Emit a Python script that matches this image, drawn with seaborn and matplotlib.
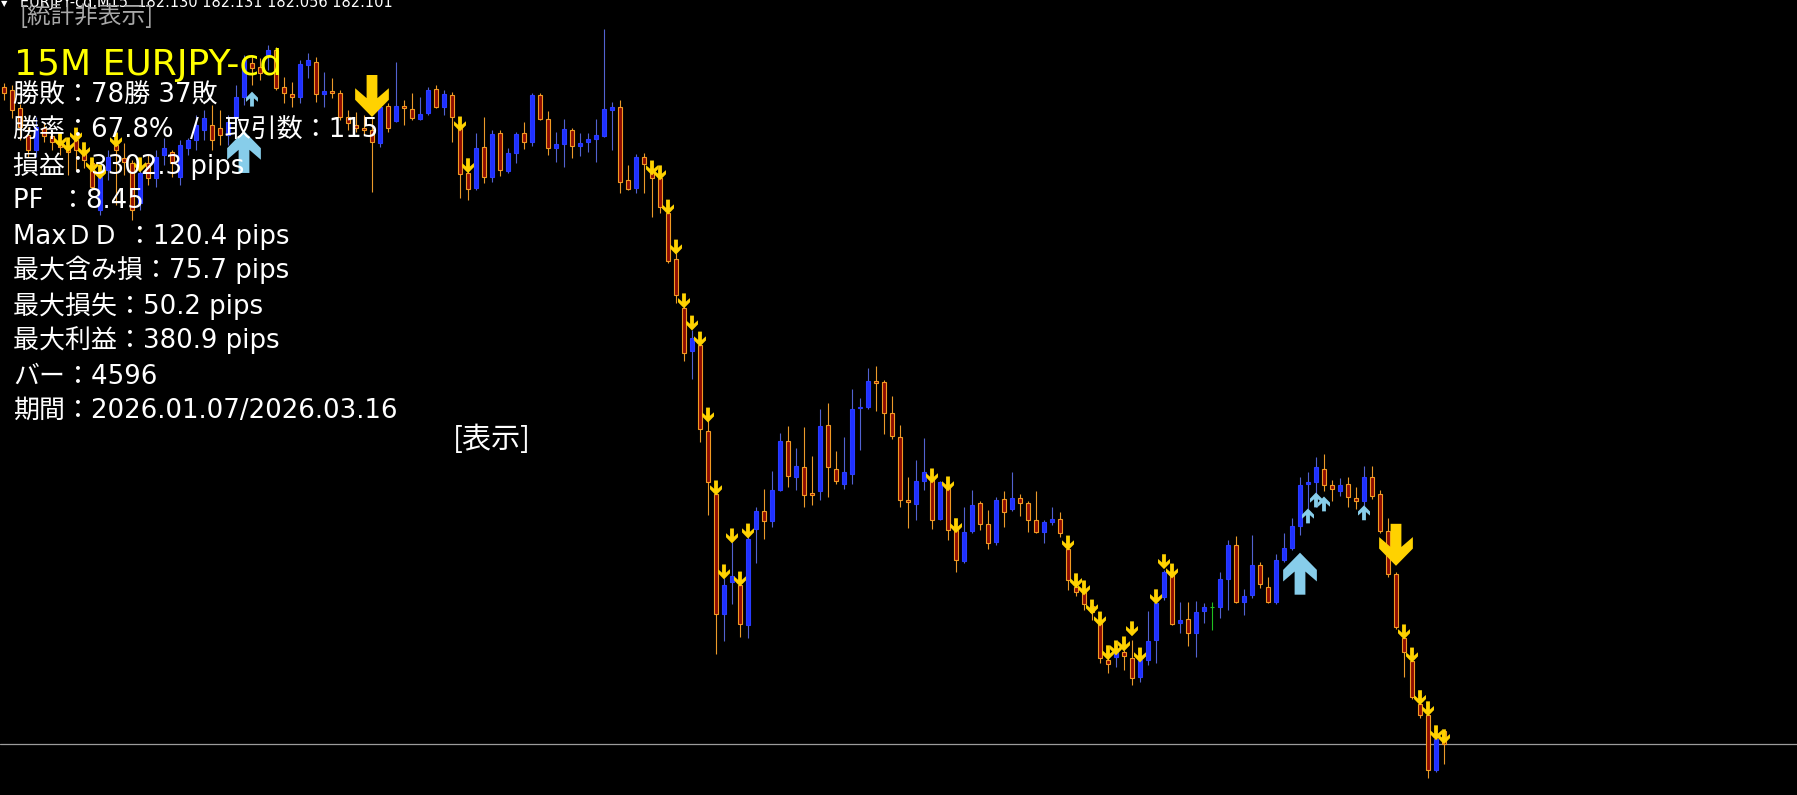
import matplotlib
matplotlib.use("Agg")
import matplotlib.pyplot as plt
from matplotlib.path import Path
import pandas as pd
import seaborn as sns

# --- data: EURJPY-cd M15, one value per bar (oldest -> newest) ---
opens = [
    183.580, 183.574, 183.533, 183.472, 183.439, 183.488, 183.470, 183.457, 183.445, 183.461,
    183.439, 183.409, 183.304, 183.394, 183.450, 183.421, 183.409, 183.319, 183.409, 183.376,
    183.427, 183.434, 183.378, 183.443, 183.461, 183.484, 183.495, 183.488, 183.472, 183.513,
    183.558, 183.634, 183.625, 183.652, 183.664, 183.580, 183.565, 183.558, 183.630, 183.637,
    183.565, 183.571, 183.567, 183.513, 183.495, 183.488, 183.484, 183.454, 183.538, 183.504,
    183.538, 183.531, 183.508, 183.522, 183.576, 183.535, 183.562, 183.488, 183.387, 183.353,
    183.445, 183.378, 183.477, 183.391, 183.432, 183.477, 183.457, 183.562, 183.508, 183.443,
    183.452, 183.484, 183.448, 183.457, 183.463, 183.470, 183.529, 183.535, 183.371, 183.353,
    183.423, 183.389, 183.376, 183.297, 183.193, 183.083, 182.986, 183.000, 182.806, 182.665,
    182.395, 182.467, 182.460, 182.370, 182.586, 182.626, 182.604, 182.674, 182.784, 182.703,
    182.725, 182.667, 182.671, 182.820, 182.721, 182.687, 182.710, 182.858, 182.860, 182.919,
    182.917, 182.847, 182.793, 182.651, 182.642, 182.694, 182.701, 182.608, 182.685, 182.584,
    182.514, 182.581, 182.644, 182.597, 182.557, 182.653, 182.631, 182.656, 182.644, 182.606,
    182.579, 182.602, 182.608, 182.541, 182.455, 182.444, 182.413, 182.374, 182.291, 182.298,
    182.309, 182.296, 182.253, 182.291, 182.336, 182.433, 182.487, 182.374, 182.383, 182.352,
    182.401, 182.409, 182.410, 182.473, 182.550, 182.422, 182.437, 182.505, 182.455, 182.422,
    182.516, 182.543, 182.593, 182.687, 182.692, 182.721, 182.685, 182.671, 182.687, 182.656,
    182.649, 182.703, 182.665, 182.581, 182.485, 182.341, 182.289, 182.192, 182.167, 182.044,
    182.130,
]
highs = [
    183.589, 183.585, 183.542, 183.490, 183.513, 183.502, 183.484, 183.461, 183.450, 183.472,
    183.443, 183.416, 183.382, 183.439, 183.461, 183.454, 183.416, 183.398, 183.427, 183.439,
    183.466, 183.439, 183.461, 183.466, 183.517, 183.529, 183.540, 183.529, 183.517, 183.585,
    183.652, 183.652, 183.645, 183.675, 183.670, 183.603, 183.592, 183.641, 183.657, 183.648,
    183.614, 183.601, 183.574, 183.529, 183.524, 183.517, 183.513, 183.540, 183.544, 183.637,
    183.551, 183.567, 183.558, 183.580, 183.585, 183.574, 183.569, 183.493, 183.394, 183.477,
    183.513, 183.484, 183.484, 183.443, 183.479, 183.502, 183.567, 183.567, 183.526, 183.479,
    183.508, 183.488, 183.477, 183.477, 183.508, 183.711, 183.547, 183.551, 183.405, 183.430,
    183.432, 183.394, 183.382, 183.304, 183.207, 183.090, 183.034, 183.004, 182.831, 182.674,
    182.476, 182.557, 182.471, 182.593, 182.635, 182.676, 182.716, 182.802, 182.818, 182.768,
    182.815, 182.750, 182.856, 182.869, 182.761, 182.793, 182.901, 182.881, 182.948, 182.953,
    182.921, 182.885, 182.820, 182.703, 182.741, 182.791, 182.705, 182.694, 182.687, 182.588,
    182.635, 182.674, 182.649, 182.629, 182.658, 182.671, 182.714, 182.665, 182.649, 182.671,
    182.606, 182.635, 182.624, 182.545, 182.460, 182.449, 182.417, 182.381, 182.300, 182.325,
    182.314, 182.336, 182.287, 182.401, 182.426, 182.494, 182.489, 182.422, 182.422, 182.424,
    182.419, 182.422, 182.489, 182.561, 182.570, 182.451, 182.572, 182.512, 182.478, 182.530,
    182.577, 182.611, 182.703, 182.714, 182.748, 182.755, 182.696, 182.701, 182.703, 182.680,
    182.728, 182.728, 182.674, 182.611, 182.489, 182.345, 182.296, 182.199, 182.174, 182.118,
    182.131,
]
lows = [
    183.551, 183.511, 183.461, 183.423, 183.423, 183.457, 183.439, 183.427, 183.382, 183.394,
    183.398, 183.349, 183.292, 183.371, 183.315, 183.382, 183.281, 183.304, 183.360, 183.355,
    183.405, 183.378, 183.360, 183.427, 183.439, 183.461, 183.439, 183.450, 183.450, 183.495,
    183.540, 183.585, 183.596, 183.619, 183.574, 183.544, 183.535, 183.544, 183.601, 183.547,
    183.535, 183.556, 183.506, 183.484, 183.479, 183.472, 183.344, 183.445, 183.479, 183.502,
    183.495, 183.506, 183.506, 183.517, 183.533, 183.517, 183.457, 183.331, 183.326, 183.349,
    183.364, 183.367, 183.380, 183.387, 183.409, 183.441, 183.448, 183.506, 183.427, 183.412,
    183.400, 183.421, 183.425, 183.434, 183.412, 183.468, 183.439, 183.342, 183.349, 183.342,
    183.342, 183.288, 183.297, 183.184, 183.094, 182.964, 182.923, 182.782, 182.617, 182.305,
    182.334, 182.417, 182.343, 182.341, 182.509, 182.563, 182.590, 182.671, 182.680, 182.674,
    182.635, 182.640, 182.651, 182.658, 182.687, 182.676, 182.687, 182.764, 182.856, 182.851,
    182.800, 182.788, 182.635, 182.588, 182.606, 182.674, 182.586, 182.606, 182.561, 182.489,
    182.509, 182.577, 182.584, 182.541, 182.550, 182.590, 182.626, 182.615, 182.579, 182.577,
    182.554, 182.595, 182.568, 182.449, 182.435, 182.404, 182.381, 182.284, 182.262, 182.275,
    182.269, 182.235, 182.242, 182.280, 182.284, 182.426, 182.370, 182.352, 182.323, 182.298,
    182.374, 182.359, 182.386, 182.404, 182.419, 182.392, 182.431, 182.453, 182.419, 182.417,
    182.512, 182.539, 182.572, 182.631, 182.635, 182.671, 182.649, 182.660, 182.635, 182.631,
    182.638, 182.653, 182.577, 182.478, 182.361, 182.253, 182.203, 182.161, 182.026, 182.039,
    182.056,
]
closes = [
    183.567, 183.529, 183.490, 183.439, 183.490, 183.470, 183.457, 183.445, 183.434, 183.439,
    183.416, 183.355, 183.378, 183.423, 183.439, 183.412, 183.304, 183.387, 183.376, 183.423,
    183.443, 183.409, 183.450, 183.461, 183.495, 183.511, 183.461, 183.472, 183.502, 183.558,
    183.641, 183.623, 183.612, 183.664, 183.578, 183.567, 183.558, 183.632, 183.641, 183.565,
    183.571, 183.567, 183.513, 183.499, 183.488, 183.484, 183.457, 183.535, 183.488, 183.538,
    183.533, 183.511, 183.520, 183.574, 183.535, 183.565, 183.513, 183.385, 183.351, 183.443,
    183.378, 183.475, 183.394, 183.432, 183.475, 183.457, 183.562, 183.508, 183.443, 183.452,
    183.486, 183.448, 183.454, 183.463, 183.472, 183.531, 183.535, 183.367, 183.351, 183.423,
    183.407, 183.376, 183.310, 183.189, 183.112, 182.982, 183.016, 182.811, 182.692, 182.395,
    182.460, 182.480, 182.372, 182.563, 182.626, 182.604, 182.674, 182.784, 182.705, 182.728,
    182.662, 182.662, 182.818, 182.725, 182.694, 182.714, 182.856, 182.860, 182.919, 182.914,
    182.847, 182.795, 182.651, 182.647, 182.694, 182.714, 182.606, 182.692, 182.584, 182.516,
    182.579, 182.640, 182.597, 182.554, 182.651, 182.624, 182.656, 182.644, 182.606, 182.579,
    182.602, 182.608, 182.577, 182.471, 182.444, 182.417, 182.399, 182.296, 182.282, 182.309,
    182.300, 182.251, 182.291, 182.334, 182.419, 182.489, 182.372, 182.381, 182.352, 182.399,
    182.410, 182.409, 182.473, 182.550, 182.422, 182.435, 182.505, 182.462, 182.422, 182.516,
    182.543, 182.593, 182.685, 182.692, 182.725, 182.685, 182.676, 182.685, 182.658, 182.649,
    182.703, 182.660, 182.581, 182.485, 182.365, 182.309, 182.208, 182.167, 182.044, 182.113,
    182.101,
]

# signal arrows (bar index, price of arrow centre)
sell_small_bar = [7, 8, 9, 10, 11, 12, 14, 17, 57, 58, 81, 82, 83, 84, 85, 86, 87, 88, 89, 90,
                  91, 92, 93, 116, 118, 119, 133, 134, 135, 136, 137, 138, 139, 140, 141, 142,
                  144, 145, 146, 175, 176, 177, 178, 179, 180]
sell_small_px = [183.461, 183.450, 183.472, 183.439, 183.405, 183.389, 183.461, 183.405, 183.497,
                 183.403, 183.398, 183.387, 183.310, 183.220, 183.099, 183.049, 183.013, 182.842,
                 182.678, 182.489, 182.570, 182.473, 182.581, 182.705, 182.687, 182.593, 182.554,
                 182.469, 182.453, 182.410, 182.383, 182.307, 182.318, 182.327, 182.361, 182.302,
                 182.433, 182.512, 182.491, 182.354, 182.302, 182.206, 182.181, 182.127, 182.118]
buy_small_bar = [31, 163, 164, 165, 170]
buy_small_px = [183.553, 182.615, 182.651, 182.642, 182.622]
sell_big_bar = [46, 174]
sell_big_px = [183.560, 182.550]
buy_big_bar = [30, 162]
buy_big_px = [183.434, 182.485]

stats_lines = [
    "勝敗：78勝 37敗",
    "勝率：67.8%  /　取引数：115",
    "損益：3302.3 pips",
    "PF  ：8.45",
    "MaxＤＤ ：120.4 pips",
    "最大含み損：75.7 pips",
    "最大損失：50.2 pips",
    "最大利益：380.9 pips",
    "バー：4596",
    "期間：2026.01.07/2026.03.16",
]

# --- figure ---
W, H = 1797, 795
sns.set_style("dark", {"axes.facecolor": "black", "figure.facecolor": "black"})
# Latin glyphs from DejaVu Sans, Japanese glyphs fall back to Noto Sans CJK JP
plt.rcParams["font.family"] = ["DejaVu Sans", "Noto Sans CJK JP"]

fig = plt.figure(figsize=(W / 100, H / 100), dpi=100)
ax = fig.add_axes([0, 0, 1, 1])
ax.set_facecolor("black")
ax.set_xlim(-0.5, (W - 4) / 8)
ax.set_ylim(181.987, 183.776)
ax.axis("off")


def fx(px):
    return px / W


def fy(py):
    return 1 - py / H


df = pd.DataFrame({"o": opens, "h": highs, "l": lows, "c": closes})
df["bar"] = range(len(df))
df["kind"] = "bear"
df.loc[df.c > df.o, "kind"] = "bull"
df.loc[df.c == df.o, "kind"] = "doji"

fill = {"bear": "#8e0c02", "bull": "#1f30ff", "doji": "#20c020"}
edge = {"bear": "#f39a22", "bull": "#2a3cff", "doji": "#20c020"}
wick = {"bear": "#eb9a2a", "bull": "#5262d0", "doji": "#20c020"}

ax.vlines(df.bar, df.l, df.h, colors=df.kind.map(wick), linewidth=0.8, zorder=2)
body_lo = df[["o", "c"]].min(axis=1)
body_h = (df.c - df.o).abs().clip(lower=0.0015)
ax.bar(df.bar, body_h, bottom=body_lo, width=0.5, color=df.kind.map(fill),
       edgecolor=df.kind.map(edge), linewidth=0.8, zorder=3)

# current bid line
ax.axhline(closes[-1], color="#9c9c9c", linewidth=0.9, zorder=1)

# arrow glyph (pointing up), centred on 0
up_verts = [(0, 0.6225), (0.5, 0.1125), (0.5, -0.2305), (0.16, 0.0635), (0.16, -0.6225),
            (-0.16, -0.6225), (-0.16, 0.0635), (-0.5, -0.2305), (-0.5, 0.1125), (0, 0.6225)]
up_arrow = Path(up_verts, closed=True)
down_arrow = Path([(x, -y) for x, y in up_verts], closed=True)

gold = "#ffd200"
sky = "#87cdea"
for bars, prices, mk, size, col in [
    (sell_small_bar, sell_small_px, down_arrow, 115, gold),
    (buy_small_bar, buy_small_px, up_arrow, 115, sky),
    (sell_big_bar, sell_big_px, down_arrow, 914, gold),
    (buy_big_bar, buy_big_px, up_arrow, 914, sky),
]:
    sns.scatterplot(x=bars, y=prices, marker=mk, s=size, color=col, edgecolor="none",
                    linewidth=0, legend=False, ax=ax, zorder=4)

# --- texts ---
fig.text(fx(1), fy(4), "▼", color="white", fontsize=6, va="center")
fig.text(fx(20), fy(7),
         f"EURJPY-cd,M15  {opens[-1]:.3f} {highs[-1]:.3f} {lows[-1]:.3f} {closes[-1]:.3f}",
         color="white", fontsize=10.5, va="baseline")
fig.text(fx(20), fy(16), "[統計非表示]", color="#a8a8a8", fontsize=17, va="center",
         family=["Noto Sans CJK JP"])
fig.text(fx(14), fy(75), "15M EURJPY-cd", color="#ffff00", fontsize=26, va="baseline")

baselines = [103, 138, 174, 208, 244, 278, 314, 348, 384, 418]
for line, yb in zip(stats_lines, baselines):
    fig.text(fx(13), fy(yb), line, color="white", fontsize=18.7, va="baseline", zorder=6)

fig.text(fx(453), fy(440), "[表示]", color="white", fontsize=21, va="center",
         family=["Noto Sans CJK JP"])

fig.savefig("out.png", dpi=100, facecolor="black")
